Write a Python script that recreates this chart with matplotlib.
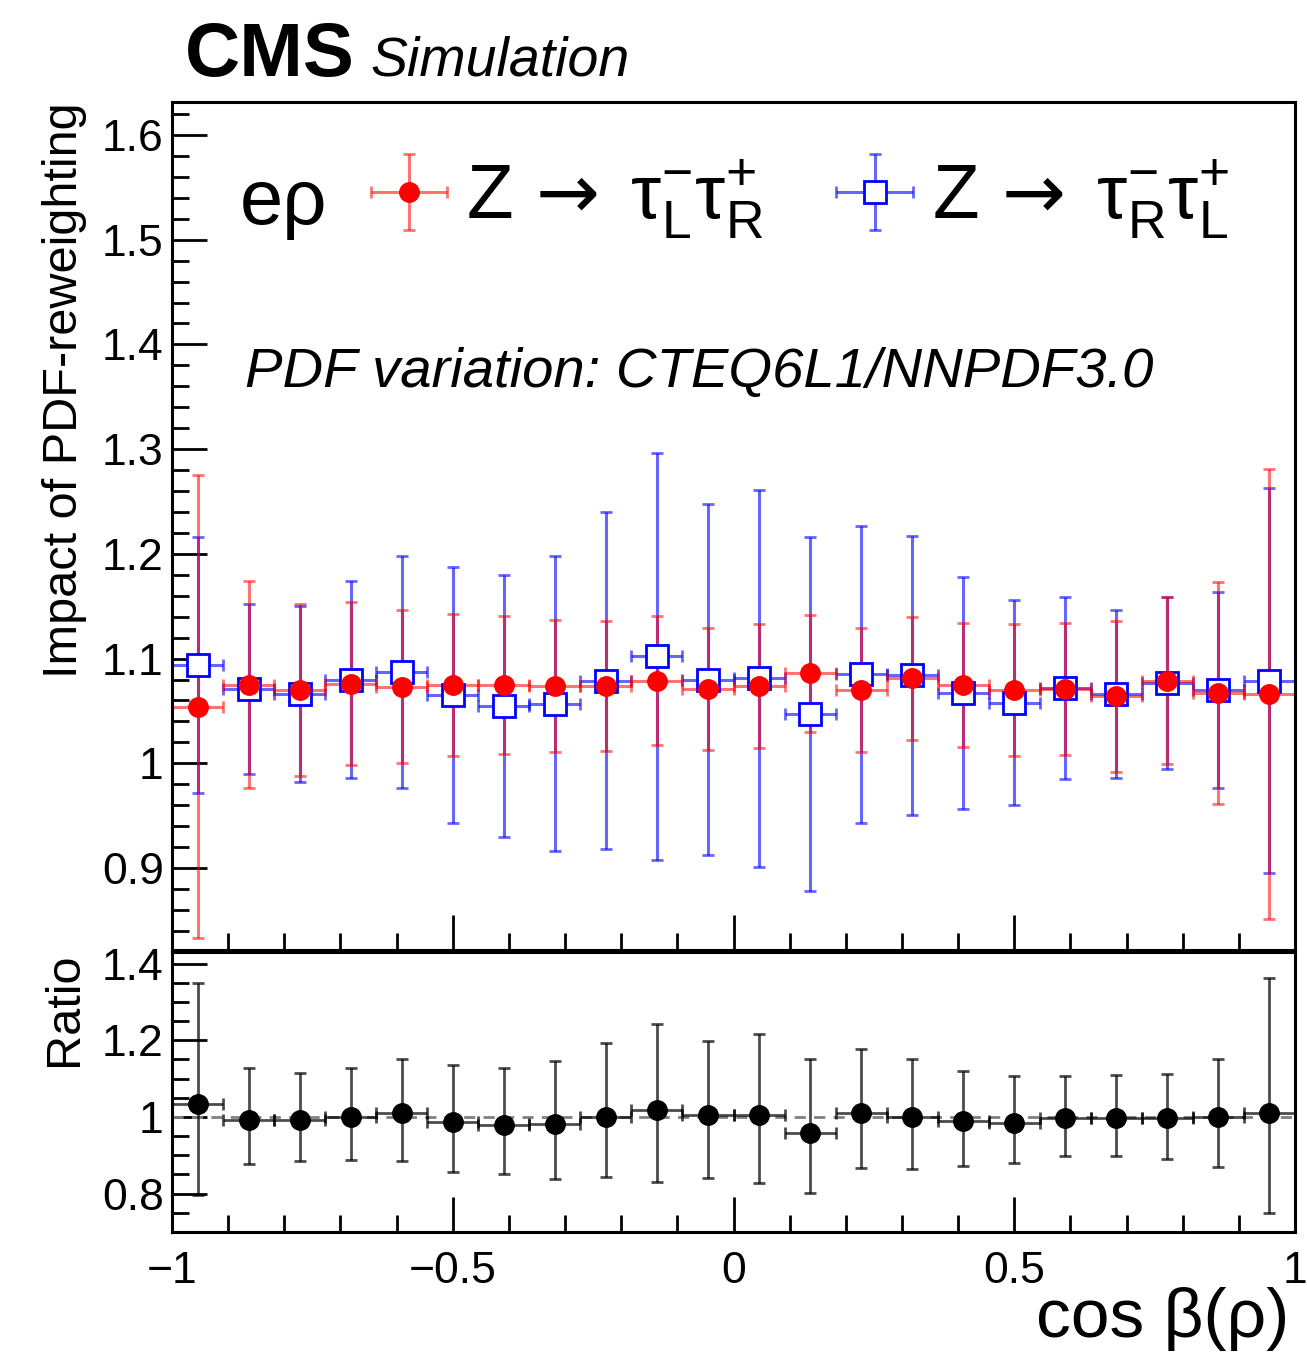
import numpy as np
import matplotlib.pyplot as plt
from matplotlib.ticker import MultipleLocator

plt.rcParams['font.family'] = ['Liberation Sans', 'DejaVu Sans']
plt.rcParams['mathtext.fontset'] = 'custom'
plt.rcParams['mathtext.rm'] = 'Liberation Sans'
plt.rcParams['mathtext.it'] = 'Liberation Sans:italic'
plt.rcParams['mathtext.bf'] = 'Liberation Sans:bold'
plt.rcParams['mathtext.sf'] = 'DejaVu Sans'
plt.rcParams['axes.linewidth'] = 2.2

# 22 bins de cos beta(rho) entre -1 e 1
n_bins = 22
bordas = np.linspace(-1, 1, n_bins + 1)
centros = 0.5 * (bordas[:-1] + bordas[1:])
meia_largura = 0.5 * (bordas[1] - bordas[0])

# Z -> tau_L^- tau_R^+ (vermelho)
valor_LR = [1.054, 1.075, 1.070, 1.076, 1.073, 1.075, 1.075, 1.074, 1.074, 1.079, 1.071,
            1.074, 1.086, 1.070, 1.081, 1.075, 1.070, 1.071, 1.064, 1.079, 1.067, 1.066]
erro_LR = [0.221, 0.099, 0.082, 0.078, 0.073, 0.068, 0.066, 0.063, 0.062, 0.062, 0.058,
           0.059, 0.056, 0.059, 0.059, 0.059, 0.063, 0.063, 0.072, 0.080, 0.106, 0.215]

# Z -> tau_R^- tau_L^+ (azul)
valor_RL = [1.094, 1.071, 1.066, 1.080, 1.087, 1.065, 1.055, 1.057, 1.079, 1.102, 1.080,
            1.081, 1.047, 1.085, 1.084, 1.067, 1.058, 1.072, 1.066, 1.077, 1.070, 1.079]
erro_RL = [0.122, 0.081, 0.084, 0.094, 0.111, 0.122, 0.125, 0.141, 0.161, 0.194, 0.168,
           0.180, 0.169, 0.142, 0.133, 0.111, 0.098, 0.087, 0.080, 0.082, 0.094, 0.184]

# razao
razao = [1.033, 0.992, 0.992, 1.001, 1.009, 0.987, 0.979, 0.981, 1.001, 1.017, 1.004,
         1.004, 0.959, 1.009, 1.001, 0.990, 0.985, 0.998, 0.998, 0.997, 1.001, 1.009]
razao_cima = [1.349, 1.128, 1.114, 1.128, 1.150, 1.135, 1.128, 1.146, 1.192, 1.243, 1.199,
              1.215, 1.152, 1.177, 1.152, 1.121, 1.107, 1.107, 1.110, 1.112, 1.150, 1.363]
razao_baixo = [0.796, 0.876, 0.884, 0.888, 0.885, 0.857, 0.850, 0.837, 0.843, 0.830, 0.842,
               0.829, 0.801, 0.868, 0.864, 0.871, 0.879, 0.898, 0.899, 0.891, 0.869, 0.750]

W, H = 1307, 1369
fig = plt.figure(figsize=(W / 100, H / 100), dpi=100)
ax = fig.add_axes([172 / W, 1 - 950 / H, 1123 / W, 848 / H])
axr = fig.add_axes([172 / W, 1 - 1232 / H, 1123 / W, 280 / H], sharex=ax)

xerr = [meia_largura] * n_bins

eb_azul = ax.errorbar(centros, valor_RL, yerr=erro_RL, xerr=xerr, fmt='s', color='blue',
                      mfc='white', mec='blue', mew=2, ms=16, ecolor=(0, 0, 1, 0.6),
                      elinewidth=2.2, capsize=4, capthick=2)
eb_verm = ax.errorbar(centros, valor_LR, yerr=erro_LR, xerr=xerr, fmt='o', color='red',
                      ms=14, ecolor=(1, 0, 0, 0.55), elinewidth=2.2, capsize=4, capthick=2)

ax.set_xlim(-1, 1)
ax.set_ylim(0.8217, 1.6315)
ax.yaxis.set_major_locator(MultipleLocator(0.1))
ax.yaxis.set_minor_locator(MultipleLocator(0.02))
ax.xaxis.set_major_locator(MultipleLocator(0.5))
ax.xaxis.set_minor_locator(MultipleLocator(0.1))
ax.set_yticks([0.9, 1.0, 1.1, 1.2, 1.3, 1.4, 1.5, 1.6], ['0.9', '1', '1.1', '1.2', '1.3', '1.4', '1.5', '1.6'])
ax.tick_params(which='both', direction='in', top=False, right=False, width=2, labelsize=32)
ax.tick_params(which='major', length=25)
ax.tick_params(which='minor', length=12)
ax.tick_params(axis='y', pad=6)
ax.tick_params(axis='x', labelbottom=False)
ax.set_ylabel('Impact of PDF-reweighting', fontsize=35, loc='top')
ax.yaxis.set_label_coords(-0.076, 1.0)

ax.legend([eb_verm, eb_azul],
          [r'$\mathregular{Z\,\mathsf{\rightarrow}\;\tau^{-}_{L}\tau^{+}_{R}}$',
           r'$\mathregular{Z\,\mathsf{\rightarrow}\;\tau^{-}_{R}\tau^{+}_{L}}$'],
          ncol=2, loc='center left', bbox_to_anchor=(0.15, 0.885), frameon=False,
          fontsize=55, handlelength=1.0, handletextpad=0.25, columnspacing=0.95,
          borderaxespad=0)
ax.text(0.06, 0.88, 'eρ', transform=ax.transAxes, fontsize=56, va='center', ha='left')
ax.text(0.065, 0.68, 'PDF variation: CTEQ6L1/NNPDF3.0', transform=ax.transAxes,
        fontsize=40.5, style='italic', va='center', ha='left')

fig.text(185 / W, 1 - 76 / H, 'CMS', fontsize=55, weight='bold', va='baseline')
fig.text(370 / W, 1 - 76 / H, 'Simulation', fontsize=40, style='italic', va='baseline')

# painel da razao
axr.axhline(1.0, color='gray', ls='--', lw=2, dashes=(4, 3))
axr.errorbar(centros, razao, yerr=[np.array(razao) - np.array(razao_baixo),
                                   np.array(razao_cima) - np.array(razao)],
             xerr=xerr, fmt='o', color='black', ms=14, ecolor=(0, 0, 0, 0.7),
             elinewidth=2, capsize=4, capthick=2)
axr.set_ylim(0.70, 1.43)
axr.set_yticks([0.8, 1.0, 1.2, 1.4], ['0.8', '1', '1.2', '1.4'])
axr.yaxis.set_minor_locator(MultipleLocator(0.05))
axr.set_xticks([-1, -0.5, 0, 0.5, 1], ['\u22121', '\u22120.5', '0', '0.5', '1'])
axr.tick_params(which='both', direction='in', top=False, right=False, width=2, labelsize=32)
axr.tick_params(which='major', length=25)
axr.tick_params(which='minor', length=12)
axr.tick_params(axis='y', pad=6)
axr.tick_params(axis='x', pad=14)
axr.set_ylabel('Ratio', fontsize=35, loc='top')
axr.yaxis.set_label_coords(-0.076, 1.0)
axr.set_xlabel('cos β(ρ)', fontsize=50, loc='right')
axr.xaxis.set_label_coords(0.995, -0.195)

plt.savefig('out.png', dpi=100)
